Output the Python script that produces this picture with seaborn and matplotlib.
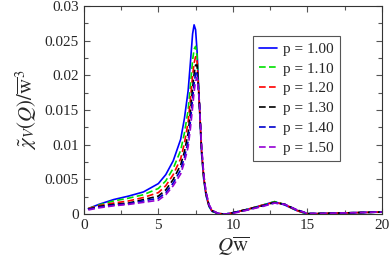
import numpy as np
import pandas as pd
import matplotlib
matplotlib.use("Agg")
import matplotlib.pyplot as plt
import seaborn as sns
from matplotlib.ticker import MultipleLocator, FuncFormatter

# Q*w grid
q = [0.3, 1, 2, 3, 4, 5, 5.5, 6, 6.5, 6.75, 7, 7.15, 7.3, 7.4, 7.5, 7.6, 7.75, 7.9, 8.05, 8.2, 8.4, 8.6,
     9, 9.5, 10, 11, 12, 12.8, 13.5, 14.2, 15, 16, 18, 20]

chi_100 = [.0008, .0014, .0021, .0026, .0032, .0044, .0057, .0077, .0108, .0138, .0178, .0218, .0260, .0273,
           .0266, .0235, .0160, .0088, .0050, .0027, .0011, .0004,
           .0001, .0000, .0002, .0007, .0013, .0018, .0013, .0006, .0000, .0001, .0002, .0003]
chi_110 = [.0008, .0013, .0019, .0023, .0028, .0037, .0048, .0066, .0092, .0117, .0150, .0185, .0222, .0238,
           .0242, .0228, .0160, .0090, .0051, .0028, .0012, .0004,
           .0001, .0000, .0002, .0007, .0013, .0018, .0014, .0006, .0000, .0001, .0002, .0003]
chi_120 = [.0008, .0012, .0016, .0019, .0024, .0031, .0041, .0057, .0080, .0102, .0133, .0165, .0200, .0218,
           .0227, .0220, .0160, .0092, .0053, .0029, .0012, .0005,
           .0001, .0000, .0002, .0007, .0013, .0017, .0014, .0006, .0000, .0001, .0002, .0003]
chi_130 = [.0007, .0011, .0014, .0016, .0021, .0026, .0035, .0050, .0071, .0090, .0117, .0147, .0182, .0202,
           .0215, .0215, .0162, .0094, .0054, .0030, .0013, .0005,
           .0001, .0000, .0002, .0007, .0012, .0017, .0014, .0007, .0001, .0001, .0002, .0003]
chi_140 = [.0007, .0010, .0013, .0015, .0019, .0023, .0031, .0045, .0064, .0082, .0105, .0133, .0166, .0188,
           .0203, .0206, .0163, .0096, .0056, .0031, .0013, .0005,
           .0001, .0000, .0002, .0006, .0012, .0016, .0014, .0007, .0001, .0001, .0002, .0003]
chi_150 = [.0006, .0009, .0012, .0014, .0017, .0020, .0028, .0041, .0058, .0075, .0097, .0123, .0154, .0176,
           .0192, .0197, .0164, .0098, .0057, .0032, .0014, .0006,
           .0001, .0000, .0001, .0006, .0011, .0016, .0014, .0007, .0001, .0001, .0002, .0003]

labels = ["p = 1.00", "p = 1.10", "p = 1.20", "p = 1.30", "p = 1.40", "p = 1.50"]
series = [chi_100, chi_110, chi_120, chi_130, chi_140, chi_150]
colors = ["#0000ff", "#00e000", "#ff0000", "#000000", "#0000cc", "#9400d3"]

sns.set_style("ticks")
plt.rcParams["font.family"] = ["Liberation Serif", "DejaVu Serif"]
plt.rcParams["mathtext.fontset"] = "stix"

fig = plt.figure(figsize=(3.9, 2.66), dpi=100)
ax = fig.add_axes([0.215, 0.195, 0.764, 0.782])

for i, (lab, ys) in enumerate(zip(labels, series)):
    df = pd.DataFrame({"q": q, "chi": ys})
    ls = "-" if i == 0 else (0, (4, 2))
    sns.lineplot(data=df, x="q", y="chi", ax=ax, color=colors[i], lw=1.2,
                 linestyle=ls, label=lab)

ax.set_xlim(0, 20)
ax.set_ylim(0, 0.03)
ax.xaxis.set_major_locator(MultipleLocator(5))
ax.xaxis.set_minor_locator(MultipleLocator(2.5))
ax.yaxis.set_major_locator(MultipleLocator(0.005))
ax.yaxis.set_minor_locator(MultipleLocator(0.0025))
ax.yaxis.set_major_formatter(FuncFormatter(lambda v, p: "%g" % round(v, 4)))
ax.tick_params(which="both", direction="in", top=True, right=True, labelsize=11,
               color="#555555", width=0.8)
ax.tick_params(which="major", length=4)
ax.tick_params(which="minor", length=3)
for s in ax.spines.values():
    s.set_linewidth(0.8)
    s.set_color("#333333")

ax.set_xlabel(r"$Q\overline{\mathrm{w}}$", fontsize=15, labelpad=2)
ax.set_ylabel(r"$\tilde{\chi}_V(Q)/\overline{\mathrm{w}}^3$", fontsize=15, labelpad=4)

leg = ax.legend(loc="upper left", bbox_to_anchor=(0.567, 0.856), borderaxespad=0,
                fontsize=11, handlelength=1.2, handletextpad=0.4, labelspacing=0.4,
                fancybox=False, framealpha=1, edgecolor="#555555", borderpad=0.4)
leg.get_frame().set_linewidth(0.8)

fig.savefig("out.png", dpi=100)
